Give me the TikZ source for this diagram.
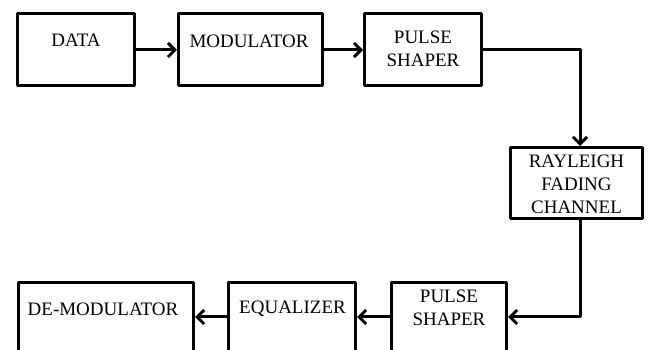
\documentclass[tikz,border=0pt]{standalone}
\usepackage{fontspec}
\setmainfont{Liberation Serif}
\usetikzlibrary{arrows.meta}
\begin{document}
\begin{tikzpicture}[x=1pt,y=-1pt,
  box/.style={draw=black,line width=3pt,line join=round,rectangle,inner sep=0pt},
  lbl/.style={inner sep=0pt,align=center,font=\fontsize{19}{23}\selectfont},
  arr/.style={line width=3pt,-{Straight Barb[length=7pt,width=14pt,line width=3pt]}}]
\useasboundingbox (0,0) rectangle (649,350);
\begin{scope}
\clip (0,0) rectangle (649,350);
% transmitter chain
\node[box,minimum width=117pt,minimum height=72pt] (data) at (76,50) {};
\node[box,minimum width=144pt,minimum height=72pt] (mod) at (250.5,50) {};
\node[box,minimum width=117pt,minimum height=72pt] (ps1) at (423,50) {};
% channel
\node[box,minimum width=132pt,minimum height=71pt] (ray) at (576.5,183) {};
% receiver chain (runs past the lower edge)
\node[box,minimum width=175pt,minimum height=69pt] (demod) at (106,317) {};
\node[box,minimum width=127pt,minimum height=69pt] (eq) at (292,317) {};
\node[box,minimum width=115pt,minimum height=69pt] (ps2) at (449,317) {};
% labels
\node[lbl] (tdata) at (76,40.5) {DATA};
\node[lbl] (tmod) at (249,41.5) {MODULATOR};
\node[lbl] (tps1) at (423,48.5) {PULSE\\SHAPER};
\node[lbl] (tray) at (576.5,184.5) {RAYLEIGH\\FADING\\CHANNEL};
\node[lbl] (tdemod) at (103,309) {DE-MODULATOR};
\node[lbl] (teq) at (292.5,309) {EQUALIZER};
\node[lbl] (tps2) at (449,308) {PULSE\\SHAPER};
% connectors
\coordinate (down) at ([xshift=3.5pt]ray.north);
\coordinate (up) at ([xshift=3.5pt]ray.south);
\draw[arr] (data.east) -- (mod.west);
\draw[arr] (mod.east) -- (ps1.west);
\draw[arr,line join=round] (ps1.east) -| (down);
\draw[arr,line join=round] (up) |- (ps2.east);
\draw[arr] (ps2.west) -- (eq.east);
\draw[arr] (eq.west) -- (demod.east);
\end{scope}
\end{tikzpicture}
\end{document}
